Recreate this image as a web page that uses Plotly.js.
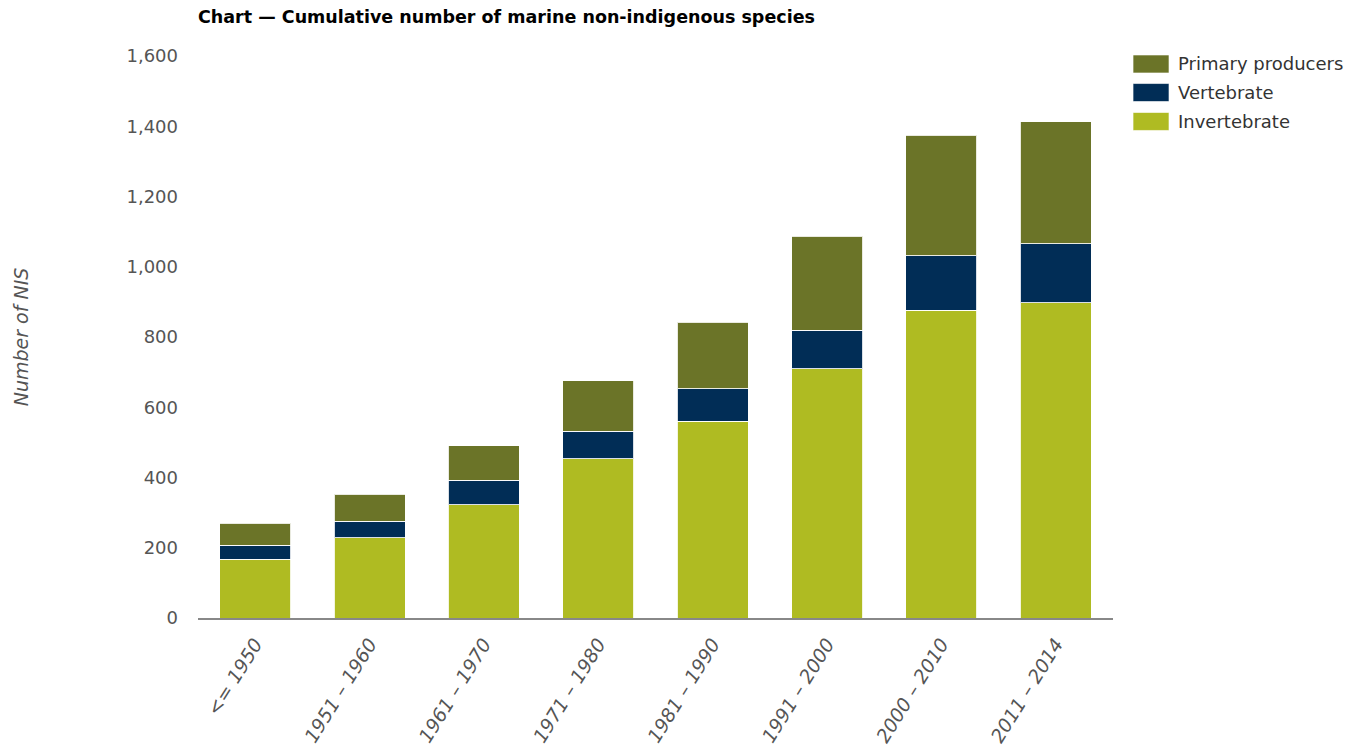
<!DOCTYPE html>
<html>
<head>
<meta charset="utf-8">
<script src="https://cdn.plot.ly/plotly-3.0.1.min.js"></script>
<style>html,body{margin:0;padding:0;background:#fff;}#chart{width:1347px;height:748px;}</style>
</head>
<body>
<div id="chart"></div>
<script>
const categories = ["<= 1950", "1951 – 1960", "1961 – 1970", "1971 – 1980", "1981 – 1990", "1991 – 2000", "2000 – 2010", "2011 – 2014"];
const invertebrate = [167, 228, 323, 453, 560, 710, 876, 898];
const vertebrate = [40, 48, 69, 79, 93, 109, 156, 168];
const primaryProducers = [63, 76, 99, 143, 189, 268, 343, 347];
const yTickValues = [0, 200, 400, 600, 800, 1000, 1200, 1400, 1600];
const seriesNames = ["Invertebrate", "Vertebrate", "Primary producers"];
const seriesColors = ["#afbb22", "#012d56", "#6b7428"];

const font = "DejaVu Sans, Verdana, sans-serif";
const line = {color: "rgba(255,255,255,0.85)", width: 1};
const seriesValues = [invertebrate, vertebrate, primaryProducers];

const traces = seriesNames.map((n, i) => ({
  type: "bar", name: n, x: categories, y: seriesValues[i],
  marker: {color: seriesColors[i], line: line}
}));

// custom legend (large swatches), top item = last series
const legendX0 = 1.0219, legendX1 = 1.0612, legendTextX = 1.069;
const legendRowY = [0.8835, 0.935, 0.9858]; // Invertebrate, Vertebrate, Primary producers
const swatchHalf = 0.016;
const shapes = seriesNames.map((n, i) => ({
  type: "rect", xref: "paper", yref: "paper",
  x0: legendX0, x1: legendX1, y0: legendRowY[i] - swatchHalf, y1: legendRowY[i] + swatchHalf,
  fillcolor: seriesColors[i], line: {color: "rgba(255,255,255,0.6)", width: 1}
}));
const annotations = seriesNames.map((n, i) => ({
  xref: "paper", yref: "paper", x: legendTextX, y: legendRowY[i],
  xanchor: "left", yanchor: "middle", showarrow: false, text: n,
  font: {family: font, size: 18, color: "#333"}
}));

const layout = {
  width: 1347, height: 748,
  barmode: "stack",
  bargap: 0.38,
  margin: {l: 198, r: 234, t: 56, b: 130},
  paper_bgcolor: "#fff", plot_bgcolor: "#fff",
  font: {family: font, size: 18, color: "#555"},
  title: {text: "<b>Chart — Cumulative number of marine non-indigenous species</b>", x: 198/1347, xanchor: "left", y: 0.977, yanchor: "middle", font: {family: font, size: 17.5, color: "#000"}},
  xaxis: {
    type: "category",
    tickangle: -58,
    ticklabelstandoff: 6,
    tickfont: {family: font, size: 19, color: "#555", style: "italic"},
    showline: true, linecolor: "#888", linewidth: 1.5,
    ticks: "", showgrid: false, zeroline: false,
    automargin: false
  },
  yaxis: {
    range: [0, 1600],
    tickvals: yTickValues,
    tickformat: ",d",
    showgrid: false, zeroline: false, showline: false,
    ticks: "", ticklabelstandoff: 19,
    tickfont: {family: font, size: 18, color: "#555"},
    title: {text: "Number of NIS", font: {family: font, size: 19, color: "#555", style: "italic"}, standoff: 92},
    automargin: false
  },
  showlegend: false,
  shapes: shapes,
  annotations: annotations
};

Plotly.newPlot("chart", traces, layout, {displayModeBar: false, staticPlot: true});
</script>
</body>
</html>
